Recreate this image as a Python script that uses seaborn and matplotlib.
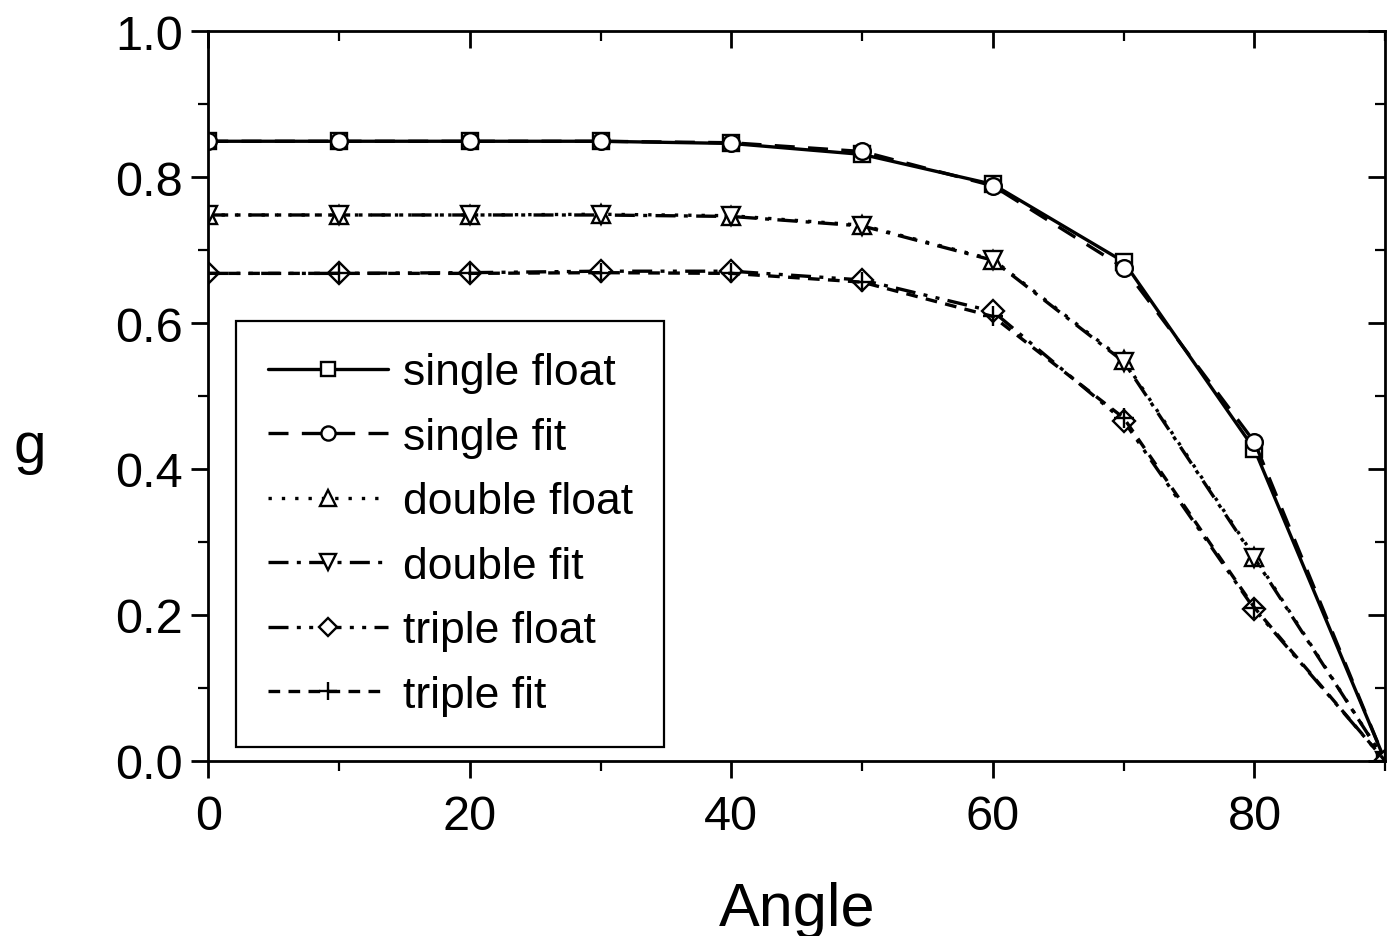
import numpy as np
import pandas as pd
import matplotlib
matplotlib.use("Agg")
import matplotlib.pyplot as plt
from matplotlib.ticker import MultipleLocator
import seaborn as sns

angles = [0, 10, 20, 30, 40, 50, 60, 70, 80, 90]
single_float = [0.849, 0.849, 0.849, 0.849, 0.846, 0.831, 0.790, 0.684, 0.427, 0.0]
single_fit   = [0.849, 0.849, 0.849, 0.849, 0.847, 0.835, 0.788, 0.676, 0.437, 0.0]
double_float = [0.748, 0.748, 0.748, 0.749, 0.747, 0.734, 0.687, 0.549, 0.280, 0.0]
double_fit   = [0.748, 0.748, 0.748, 0.748, 0.746, 0.733, 0.686, 0.547, 0.278, 0.0]
triple_float = [0.668, 0.668, 0.669, 0.671, 0.671, 0.659, 0.616, 0.466, 0.208, 0.0]
triple_fit   = [0.668, 0.668, 0.668, 0.669, 0.668, 0.656, 0.609, 0.470, 0.210, 0.0]

names = ["single float", "single fit", "double float", "double fit",
         "triple float", "triple fit"]
series = [single_float, single_fit, double_float, double_fit, triple_float, triple_fit]

markers = ["s", "o", "^", "v", "D", "+"]
linestyles = ["-",
              (0, (6, 4)),
              (0, (1, 3)),
              (0, (6, 2.5, 1.2, 2.5)),
              (0, (6, 2.5, 1.2, 2.5, 1.2, 2.5)),
              (0, (3.5, 2.5))]
msizes = [12, 12, 13, 13, 11, 15]

sns.set_style("ticks")
plt.rcParams["font.family"] = ["Liberation Sans", "DejaVu Sans"]
plt.rcParams["text.color"] = "black"
plt.rcParams["axes.labelcolor"] = "black"
plt.rcParams["xtick.color"] = "black"
plt.rcParams["ytick.color"] = "black"

fig = plt.figure(figsize=(13.88, 9.37), dpi=100)
ax = fig.add_axes([0.150, 0.1868, 0.848, 0.779])

for nm, vals, mk, ls, ms in zip(names, series, markers, linestyles, msizes):
    d = pd.DataFrame({"Angle": angles, "g": vals})
    sns.lineplot(data=d, x="Angle", y="g", ax=ax, color="black",
                 marker=mk, linestyle=ls, linewidth=2.4, markersize=ms,
                 markerfacecolor="white", markeredgecolor="black",
                 markeredgewidth=1.7, label=nm, legend=False)

ax.set_xlim(0, 90)
ax.set_ylim(0, 1.0)
ax.xaxis.set_major_locator(MultipleLocator(20))
ax.xaxis.set_minor_locator(MultipleLocator(10))
ax.yaxis.set_major_locator(MultipleLocator(0.2))
ax.yaxis.set_minor_locator(MultipleLocator(0.1))
ax.yaxis.set_major_formatter(matplotlib.ticker.FormatStrFormatter("%.1f"))

for sp in ax.spines.values():
    sp.set_visible(True)
    sp.set_linewidth(2.0)
    sp.set_color("black")

ax.tick_params(which="major", direction="out", length=12, width=2.0,
               labelsize=35, colors="black", pad=6)
ax.tick_params(which="minor", direction="out", length=7, width=1.6)
ax.tick_params(axis="x", which="major", pad=12)

secx = ax.secondary_xaxis("top")
secx.xaxis.set_major_locator(MultipleLocator(20))
secx.xaxis.set_minor_locator(MultipleLocator(10))
secx.tick_params(which="major", direction="in", length=12, width=2.0, labeltop=False)
secx.tick_params(which="minor", direction="in", length=7, width=1.6)
secx.spines["top"].set_visible(False)
secy = ax.secondary_yaxis("right")
secy.yaxis.set_major_locator(MultipleLocator(0.2))
secy.yaxis.set_minor_locator(MultipleLocator(0.1))
secy.tick_params(which="major", direction="in", length=12, width=2.0, labelright=False)
secy.tick_params(which="minor", direction="in", length=7, width=1.6)
secy.spines["right"].set_visible(False)

ax.set_xlabel("Angle", fontsize=44, labelpad=30)
ax.set_ylabel("g", fontsize=42, rotation=0, va="center")
ax.yaxis.set_label_coords(-0.152, 0.43)

leg = ax.legend(ax.lines[:6], names, loc="lower left",
                bbox_to_anchor=(0.024, 0.019), borderaxespad=0,
                fontsize=32, frameon=True,
                fancybox=False, edgecolor="black", framealpha=1,
                handlelength=2.7, markerscale=0.85, borderpad=0.7,
                labelspacing=0.53, handletextpad=0.35)
leg.get_frame().set_linewidth(1.6)

fig.savefig("out.png", dpi=100, facecolor="white")
